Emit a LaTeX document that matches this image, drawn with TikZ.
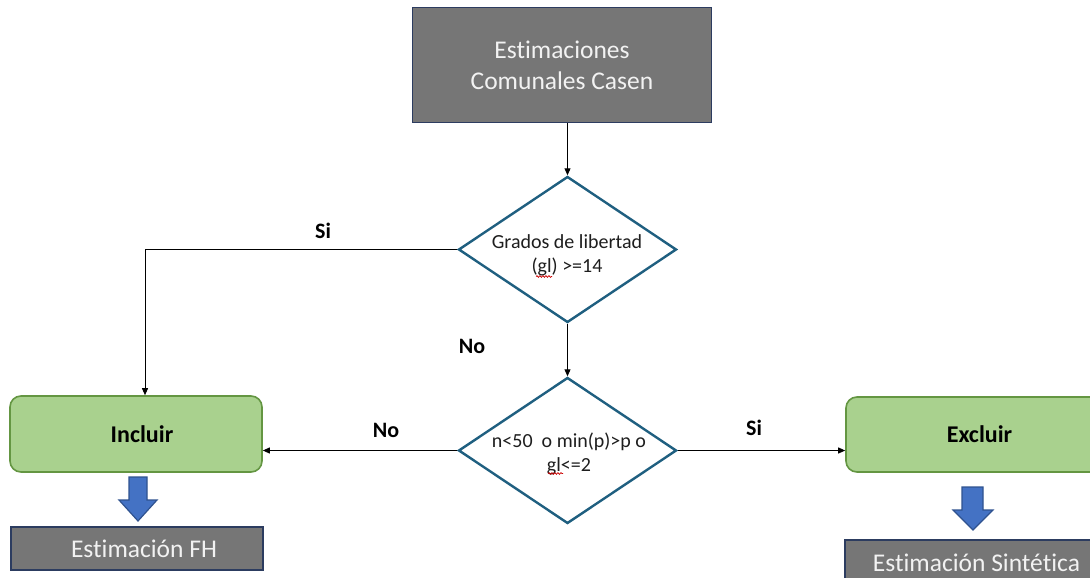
\documentclass[tikz,border=0pt]{standalone}
\usepackage{fontspec}
\setmainfont[Ligatures=NoCommon]{Carlito}
\usetikzlibrary{arrows.meta,shapes.geometric,decorations.pathmorphing}
\definecolor{boxgray}{RGB}{118,118,118}
\definecolor{boxnavy}{RGB}{44,60,96}
\definecolor{dmdblue}{RGB}{31,95,128}
\definecolor{grnfill}{RGB}{169,209,142}
\definecolor{grnline}{RGB}{100,150,66}
\definecolor{arrfill}{RGB}{68,114,196}
\definecolor{arrline}{RGB}{47,82,143}
\definecolor{txtwhite}{RGB}{242,242,242}
\definecolor{txtdark}{RGB}{30,30,30}
\tikzset{
  graybox/.style={draw=boxnavy, line width=1.8pt, fill=boxgray, text=txtwhite, inner sep=0pt, align=center, font=\fontsize{25.5}{31}\selectfont},
  greenbox/.style={draw=grnline, line width=1.6pt, fill=grnfill, rounded corners=11pt, inner sep=0pt, font=\bfseries\fontsize{24}{29}\selectfont},
  decision/.style={diamond, draw=dmdblue, line width=2.4pt, fill=white, inner sep=0pt, minimum width=218pt, minimum height=146pt},
  dtext/.style={align=center, text=txtdark, inner sep=0pt, font=\fontsize{20}{24}\selectfont},
  conn/.style={draw=black, line width=0.9pt, -{Triangle[length=7pt,width=6pt]}},
  lbl/.style={font=\bfseries\fontsize{22}{26}\selectfont, inner sep=0pt},
  bigarrow/.style={draw=arrline, line width=1.2pt, fill=arrfill, line join=miter},
  squig/.style={draw=red!80!black, line width=0.7pt, decorate, decoration={snake, amplitude=0.9pt, segment length=3pt}}
}
\begin{document}
\begin{tikzpicture}[x=1pt,y=-1pt]
\clip (0,0) rectangle (1090,578);
\fill[white] (0,0) rectangle (1090,578);

% top box
\node[graybox, minimum width=299pt, minimum height=115pt] (top) at (562,65) {Estimaciones\\Comunales Casen};

% decisions
\node[decision] (d1) at (567.5,249.5) {};
\node[dtext] (d1t) at (567,255.5) {Grados de libertad\\(gl) >=14};
\node[decision] (d2) at (567.5,450.5) {};
\node[dtext] (d2t) at (569,453.5) {n<50\ \ o min(p)>p o\\gl<=2};

% green boxes
\node[greenbox, minimum width=252pt, minimum height=76pt] (inc) at (136,434) {\hspace*{12pt}Incluir};
\node[greenbox, minimum width=267pt, minimum height=75pt] (exc) at (979.5,434.5) {Excluir};

% result boxes
\node[graybox, minimum width=252pt, minimum height=43pt] (fh) at (137,548.5) {\hspace*{14pt}Estimación FH};
\node[graybox, minimum width=263pt, minimum height=46pt] (sin) at (976.5,563) {Estimación Sintética};

% connectors
\coordinate (c1) at (top.south -| d1.north);
\draw[conn] (c1) -- (d1.north);
\coordinate (bend) at (145,249.5);
\draw[conn] (d1.west) -- (bend) -- (bend |- inc.north);
\draw[conn] (d1.south) -- (d2.north);
\draw[conn] (d2.west) -- (inc.east |- d2.west);
\draw[conn] (d2.east) -- (exc.west |- d2.east);

% labels
\node[lbl] (si1) at (323,231) {Si};
\node[lbl] (no1) at (472,346) {No};
\node[lbl] (no2) at (386,430) {No};
\node[lbl] (si2) at (754,428) {Si};

% block arrows
\draw[bigarrow] (129,477) -- (147,477) -- (147,500) -- (157,500) -- (138,521) -- (119,500) -- (129,500) -- cycle;
\draw[bigarrow] (962,487) -- (983,487) -- (983,510) -- (993,510) -- (973,530) -- (953,510) -- (962,510) -- cycle;

% spell-check squiggles
\draw[squig] (536,276.5) -- (552,276.5);
\draw[squig] (548,473.5) -- (563,473.5);
\end{tikzpicture}
\end{document}
